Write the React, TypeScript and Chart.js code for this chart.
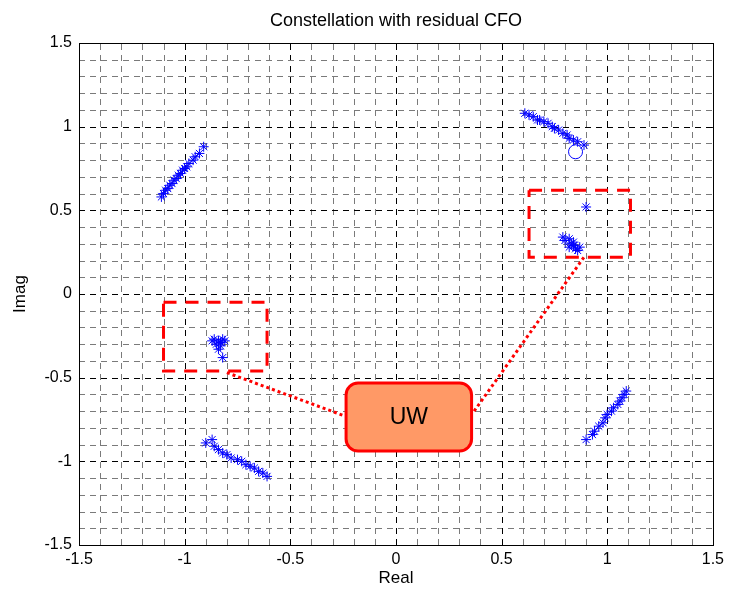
import React, { useEffect, useRef } from 'react';
import { Chart, registerables } from 'chart.js';

Chart.register(...registerables);

const FONT = "'Liberation Sans', Arial, Helvetica, sans-serif";

// Axis ticks
const tickValues = [-1.5, -1, -0.5, 0, 0.5, 1, 1.5];
const tickLabels = ['-1.5', '-1', '-0.5', '0', '0.5', '1', '1.5'];
const gridValues = [
  -1.5, -1.4, -1.3, -1.2, -1.1, -1.0, -0.9, -0.8, -0.7, -0.6, -0.5, -0.4, -0.3, -0.2, -0.1, 0,
  0.1, 0.2, 0.3, 0.4, 0.5, 0.6, 0.7, 0.8, 0.9, 1.0, 1.1, 1.2, 1.3, 1.4, 1.5,
];

// Upper-left data cluster
const ulReal = [-1.11, -1.10, -1.09, -1.08, -1.07, -1.06, -1.05, -1.04, -1.03, -1.02, -1.01, -1.00, -0.99, -0.98, -0.96, -0.95, -0.93, -0.91];
const ulImag = [0.58, 0.60, 0.62, 0.63, 0.65, 0.66, 0.68, 0.69, 0.71, 0.72, 0.74, 0.75, 0.76, 0.78, 0.80, 0.82, 0.84, 0.88];

// Upper-right data cluster
const urReal = [0.61, 0.63, 0.65, 0.67, 0.68, 0.70, 0.72, 0.74, 0.75, 0.77, 0.79, 0.81, 0.82, 0.84, 0.86, 0.89];
const urImag = [1.08, 1.07, 1.06, 1.04, 1.04, 1.03, 1.02, 1.00, 0.99, 0.98, 0.96, 0.95, 0.93, 0.92, 0.91, 0.89];

// Lower-left data cluster
const llReal = [-0.90, -0.87, -0.86, -0.84, -0.82, -0.80, -0.78, -0.75, -0.73, -0.71, -0.69, -0.67, -0.65, -0.63, -0.61];
const llImag = [-0.89, -0.87, -0.91, -0.93, -0.95, -0.96, -0.98, -0.99, -1.00, -1.02, -1.03, -1.04, -1.06, -1.07, -1.09];

// Lower-right data cluster
const lrReal = [0.90, 0.93, 0.94, 0.96, 0.98, 0.99, 1.00, 1.02, 1.03, 1.05, 1.06, 1.07, 1.08, 1.09];
const lrImag = [-0.87, -0.84, -0.82, -0.79, -0.77, -0.74, -0.72, -0.70, -0.68, -0.66, -0.64, -0.62, -0.60, -0.58];

// Unique word symbols (upper right)
const uwRReal = [0.90, 0.79, 0.80, 0.82, 0.83, 0.84, 0.82, 0.85, 0.86, 0.84, 0.87];
const uwRImag = [0.52, 0.34, 0.32, 0.33, 0.30, 0.31, 0.28, 0.27, 0.26, 0.29, 0.28];

// Unique word symbols (left)
const uwLReal = [-0.86, -0.84, -0.82, -0.81, -0.85, -0.83, -0.84, -0.82, -0.87, -0.83];
const uwLImag = [-0.27, -0.28, -0.27, -0.28, -0.30, -0.31, -0.33, -0.38, -0.28, -0.29];

// Reference point (circle)
const refReal = [0.85];
const refImag = [0.85];

// Dashed boxes: [xMin, xMax, yMin, yMax]
const boxRight = [0.63, 1.11, 0.22, 0.62];
const boxLeft = [-1.10, -0.61, -0.46, -0.05];

// Dotted connector lines
const connLeftReal = [-0.80, -0.24];
const connLeftImag = [-0.47, -0.73];
const connRightReal = [0.37, 0.89];
const connRightImag = [-0.70, 0.22];

// UW label box: [xMin, xMax, yMin, yMax]
const uwBox = [-0.236, 0.358, -0.938, -0.532];
const uwText = 'UW';

const pts = (xs: number[], ys: number[]) => xs.map((x, i) => ({ x, y: ys[i] }));
const rect = (b: number[]) => [
  { x: b[0], y: b[3] },
  { x: b[1], y: b[3] },
  { x: b[1], y: b[2] },
  { x: b[0], y: b[2] },
  { x: b[0], y: b[3] },
];

const gridPlugin = {
  id: 'matlabGrid',
  beforeDatasetsDraw(chart: any) {
    const { ctx, chartArea, scales } = chart;
    const { left, right, top, bottom } = chartArea;
    ctx.save();
    ctx.lineWidth = 1;
    ctx.setLineDash([6, 5]);
    gridValues.forEach((v) => {
      const major = tickValues.some((t) => Math.abs(t - v) < 1e-9);
      ctx.strokeStyle = major ? '#000000' : '#7a7a7a';
      const px = Math.round(scales.x.getPixelForValue(v)) + 0.5;
      ctx.beginPath();
      ctx.moveTo(px, bottom);
      ctx.lineTo(px, top);
      ctx.stroke();
      const py = Math.round(scales.y.getPixelForValue(v)) + 0.5;
      ctx.beginPath();
      ctx.moveTo(left, py);
      ctx.lineTo(right, py);
      ctx.stroke();
    });
    ctx.restore();
  },
  afterDraw(chart: any) {
    const { ctx, chartArea, scales } = chart;
    const { left, right, top, bottom } = chartArea;
    ctx.save();
    // UW box
    const x0 = scales.x.getPixelForValue(uwBox[0]);
    const x1 = scales.x.getPixelForValue(uwBox[1]);
    const y0 = scales.y.getPixelForValue(uwBox[3]);
    const y1 = scales.y.getPixelForValue(uwBox[2]);
    ctx.beginPath();
    ctx.roundRect(x0, y0, x1 - x0, y1 - y0, 12);
    ctx.fillStyle = '#FF9966';
    ctx.fill();
    ctx.lineWidth = 3;
    ctx.strokeStyle = '#FF0000';
    ctx.stroke();
    ctx.fillStyle = '#000';
    ctx.font = `23px ${FONT}`;
    ctx.textAlign = 'center';
    ctx.textBaseline = 'middle';
    ctx.fillText(uwText, (x0 + x1) / 2, (y0 + y1) / 2 + 1);
    // Frame
    ctx.lineWidth = 1;
    ctx.strokeStyle = '#000';
    ctx.strokeRect(Math.round(left) + 0.5, Math.round(top) + 0.5, Math.round(right - left), Math.round(bottom - top));
    // Inward major ticks on all sides
    ctx.beginPath();
    tickValues.forEach((v) => {
      const px = Math.round(scales.x.getPixelForValue(v)) + 0.5;
      ctx.moveTo(px, bottom);
      ctx.lineTo(px, bottom - 6);
      ctx.moveTo(px, top);
      ctx.lineTo(px, top + 6);
      const py = Math.round(scales.y.getPixelForValue(v)) + 0.5;
      ctx.moveTo(left, py);
      ctx.lineTo(left + 6, py);
      ctx.moveTo(right, py);
      ctx.lineTo(right - 6, py);
    });
    ctx.stroke();
    ctx.restore();
  },
};

const labelFor = (v: number) => {
  const i = tickValues.findIndex((t) => Math.abs(t - v) < 1e-9);
  return i >= 0 ? tickLabels[i] : '';
};

export default function App() {
  const canvasRef = useRef<HTMLCanvasElement | null>(null);

  useEffect(() => {
    if (!canvasRef.current) return;
    const star = {
      showLine: false,
      pointStyle: 'star',
      pointRadius: 5,
      pointBorderWidth: 1,
      pointBorderColor: '#0000FF',
      pointBackgroundColor: '#0000FF',
      borderColor: '#0000FF',
    };
    const boxStyle = {
      showLine: true,
      pointRadius: 0,
      borderColor: '#FF0000',
      borderWidth: 3,
      borderDash: [13, 9],
      fill: false,
    };
    const connStyle = {
      showLine: true,
      pointRadius: 0,
      borderColor: '#FF0000',
      borderWidth: 3,
      borderDash: [3, 3],
      fill: false,
    };
    const tickFont = { family: FONT, size: 16 };
    const chart = new Chart(canvasRef.current, {
      type: 'scatter',
      data: {
        datasets: [
          { data: rect(boxRight), ...boxStyle },
          { data: rect(boxLeft), ...boxStyle },
          { data: pts(connLeftReal, connLeftImag), ...connStyle },
          { data: pts(connRightReal, connRightImag), ...connStyle },
          { data: pts(ulReal, ulImag), ...star },
          { data: pts(urReal, urImag), ...star },
          { data: pts(llReal, llImag), ...star },
          { data: pts(lrReal, lrImag), ...star },
          { data: pts(uwRReal, uwRImag), ...star },
          { data: pts(uwLReal, uwLImag), ...star },
          {
            data: pts(refReal, refImag),
            showLine: false,
            pointStyle: 'circle',
            pointRadius: 7,
            pointBorderWidth: 1,
            pointBorderColor: '#0000FF',
            pointBackgroundColor: 'rgba(0,0,0,0)',
          },
        ] as any,
      },
      options: {
        animation: false,
        responsive: false,
        maintainAspectRatio: false,
        layout: { padding: { left: 0, right: 14, top: 0, bottom: 0 } },
        plugins: {
          legend: { display: false },
          tooltip: { enabled: false },
          title: {
            display: true,
            fullSize: false,
            text: 'Constellation with residual CFO',
            color: '#000',
            font: { family: FONT, size: 18, weight: 'normal' },
            padding: { top: 10, bottom: 11.4 },
          },
        },
        scales: {
          x: {
            type: 'linear',
            min: -1.5,
            max: 1.5,
            afterBuildTicks: (s: any) => {
              s.ticks = tickValues.map((v) => ({ value: v }));
            },
            afterFit: (s: any) => {
              s.height = 47;
            },
            grid: { display: false, drawTicks: false },
            border: { display: false },
            ticks: { color: '#000', font: tickFont, padding: 5, maxRotation: 0, autoSkip: false, callback: (v: any) => labelFor(Number(v)) },
            title: {
              display: true,
              text: 'Real',
              color: '#000',
              font: { family: FONT, size: 17 },
              padding: { top: 0, bottom: 3 },
            },
          },
          y: {
            type: 'linear',
            min: -1.5,
            max: 1.5,
            afterBuildTicks: (s: any) => {
              s.ticks = tickValues.map((v) => ({ value: v }));
            },
            afterFit: (s: any) => {
              s.width = 79;
            },
            grid: { display: false, drawTicks: false },
            border: { display: false },
            ticks: { color: '#000', font: tickFont, padding: 7, autoSkip: false, callback: (v: any) => labelFor(Number(v)) },
            title: {
              display: true,
              text: 'Imag',
              color: '#000',
              font: { family: FONT, size: 17 },
              padding: { top: 10, bottom: 0 },
            },
          },
        },
      } as any,
      plugins: [gridPlugin],
    });
    return () => chart.destroy();
  }, []);

  return (
    <div style={{ position: 'fixed', left: 0, top: 0, width: 729, height: 592, background: '#fff' }}>
      <canvas ref={canvasRef} width={729} height={592} style={{ width: 729, height: 592 }} />
    </div>
  );
}
